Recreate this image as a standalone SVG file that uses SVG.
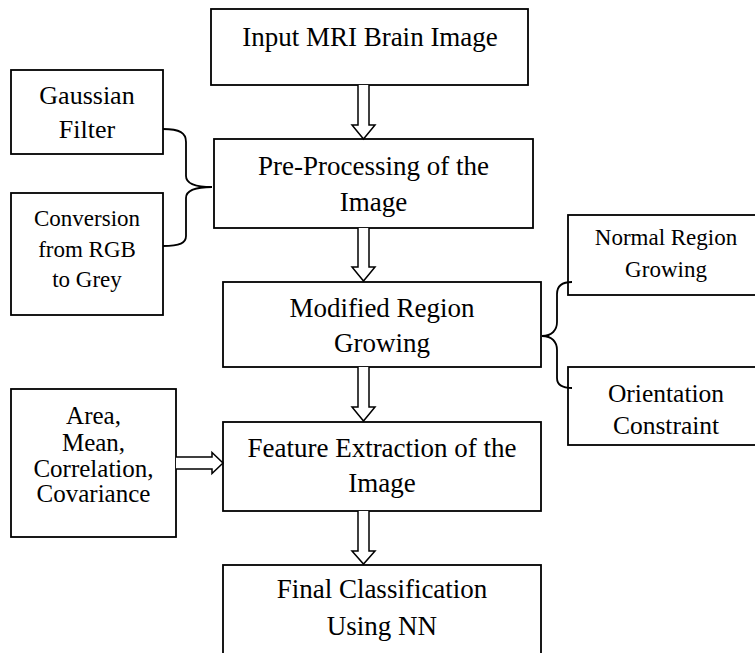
<svg xmlns="http://www.w3.org/2000/svg" width="755" height="653" viewBox="0 0 755 653">
<style>
.box{fill:#fff;stroke:#000;stroke-width:1.8}
text{font-family:'Liberation Serif','Tinos','Times New Roman','DejaVu Serif',serif;fill:#000;text-anchor:middle}
.m{font-size:27px}
.con{fill:none;stroke:#000;stroke-width:1.8}
.arr{fill:#fff;stroke:#000;stroke-width:1.5;stroke-linejoin:miter}
</style>
<defs>
<clipPath id="clipO"><rect x="560" y="360" width="200" height="76"/></clipPath>
</defs>
<rect width="755" height="653" fill="#fff"/>
<g id="input">
<rect class="box" x="211" y="9" width="317" height="76"/>
<text class="m" x="370" y="46">Input MRI Brain Image</text>
</g>
<g id="gaussian">
<rect class="box" x="11" y="70" width="152" height="84"/>
<text font-size="26" x="87" y="104">Gaussian</text>
<text font-size="26" x="87" y="138">Filter</text>
</g>
<g id="conversion">
<rect class="box" x="11" y="193" width="152" height="122"/>
<text font-size="23" x="87" y="226">Conversion</text>
<text font-size="23" x="87" y="257">from RGB</text>
<text font-size="23" x="87" y="287">to Grey</text>
</g>
<g id="preprocessing">
<rect class="box" x="214" y="139" width="319" height="89"/>
<text class="m" x="373.5" y="175">Pre-Processing of the</text>
<text class="m" x="373.5" y="211">Image</text>
</g>
<g id="modified">
<rect class="box" x="223" y="282" width="318" height="85"/>
<text class="m" x="382" y="317">Modified Region</text>
<text class="m" x="382" y="352">Growing</text>
</g>
<g id="normal">
<rect class="box" x="568" y="215" width="200" height="80"/>
<text font-size="23" x="666" y="245">Normal Region</text>
<text font-size="23" x="666" y="277">Growing</text>
</g>
<g id="orientation">
<rect class="box" x="568" y="367" width="200" height="78"/>
<g clip-path="url(#clipO)">
<text font-size="25.5" x="666" y="402">Orientation</text>
<text font-size="25.5" x="666" y="434">Constraint</text>
</g>
</g>
<g id="features">
<rect class="box" x="11" y="389" width="165" height="148"/>
<text font-size="25" x="93.5" y="424">Area,</text>
<text font-size="25" x="93.5" y="451">Mean,</text>
<text font-size="25" x="93.5" y="477">Correlation,</text>
<text font-size="25" x="93.5" y="502">Covariance</text>
</g>
<g id="extraction">
<rect class="box" x="223" y="422" width="318" height="89"/>
<text class="m" x="382" y="457">Feature Extraction of the</text>
<text class="m" x="382" y="492">Image</text>
</g>
<g id="final">
<rect class="box" x="223" y="565" width="318" height="100"/>
<text class="m" x="382" y="598">Final Classification</text>
<text class="m" x="382" y="635">Using NN</text>
</g>
<g id="connectors">
<path class="arr" d="M358,85 V125 H352 L363.5,139 L375,125 H369 V85"/>
<path class="arr" d="M358,228 V267 H352 L363.5,281 L375,267 H369 V228"/>
<path class="arr" d="M358,367 V407 H352 L363.5,421 L375,407 H369 V367"/>
<path class="arr" d="M358,511 V551 H352 L363.5,564 L375,551 H369 V511"/>
<path class="arr" d="M176,457 H212 V452.5 L223,463 L212,473.5 V469 H176"/>
<path class="con" d="M163,129 C180,129 186,133 186,142 V176 C186,184 195,187 212,187"/>
<path class="con" d="M212,187 C195,187 186,190 186,198 V236 C186,243 180,246 163,246"/>
<path class="con" d="M542,336 C552,336 557,330 557,322 V294 C557,286 562,282 572,282"/>
<path class="con" d="M542,336 C552,336 557,342 557,350 V378 C557,384 562,388 572,388"/>
</g>
</svg>
